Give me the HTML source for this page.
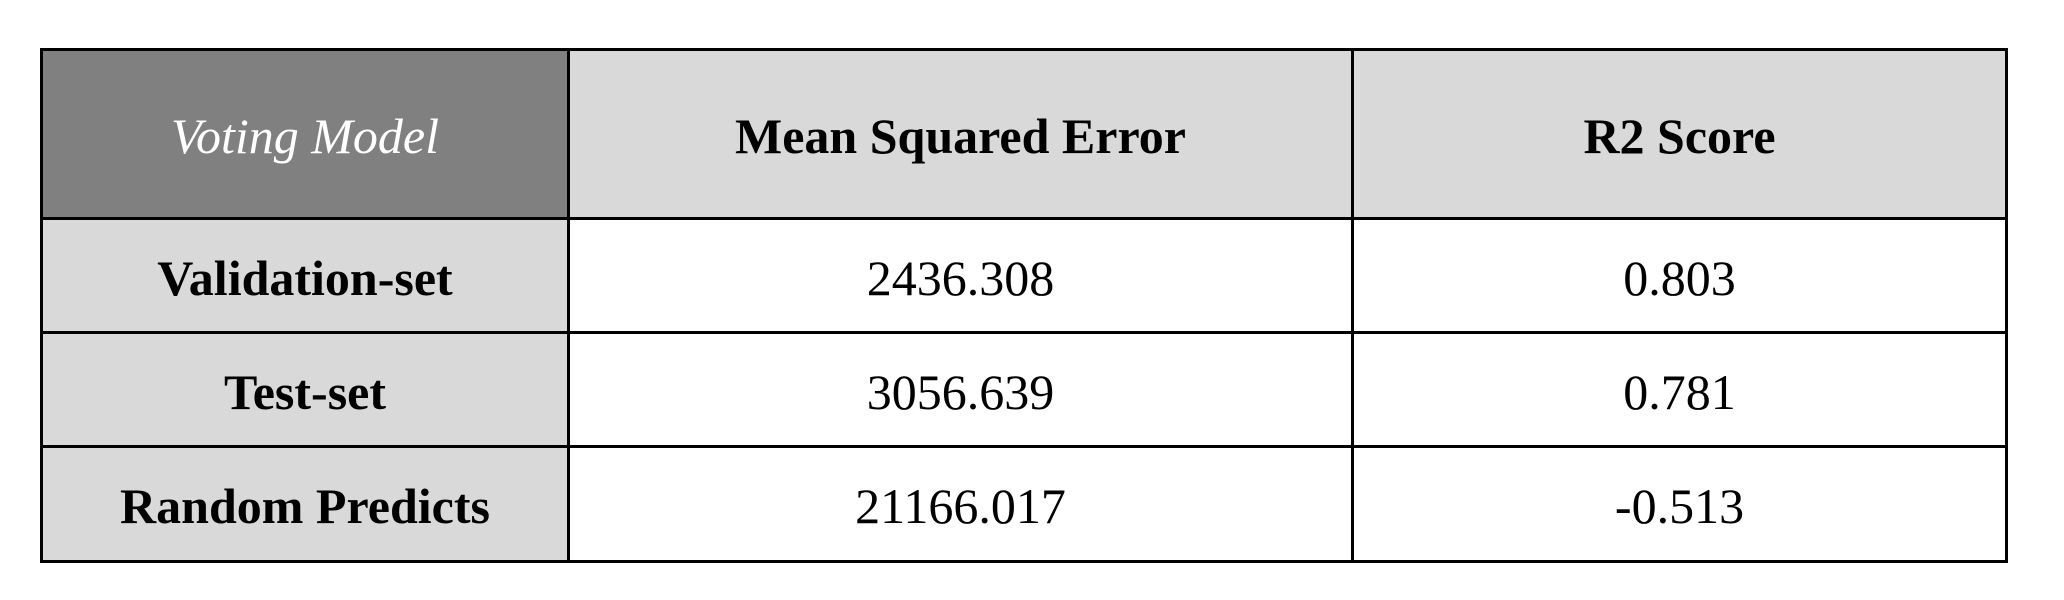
<!DOCTYPE html>
<html><head><meta charset="utf-8"><style>
html,body{margin:0;padding:0;background:#fff;width:2064px;height:600px;overflow:hidden}
table{position:absolute;left:40px;top:48px;border-collapse:collapse;font-family:"Liberation Serif",serif;table-layout:fixed}
td{border:3px solid #000;text-align:center;vertical-align:middle;padding:4px 0 0 0;font-size:50px;color:#000;line-height:1}
.h{background:#d9d9d9;font-weight:bold;font-size:50px}
.corner{background:#808080;color:#fff;font-style:italic;font-size:50px}
.lab{background:#d9d9d9;font-weight:bold;font-size:50px}
</style></head><body>
<table>
<colgroup><col style="width:527px"><col style="width:784px"><col style="width:654px"></colgroup>
<tr style="height:169px">
<td class="corner">Voting Model</td>
<td class="h">Mean Squared Error</td>
<td class="h">R2 Score</td></tr>
<tr style="height:114px">
<td class="lab">Validation-set</td>
<td>2436.308</td>
<td>0.803</td></tr>
<tr style="height:114px">
<td class="lab">Test-set</td>
<td>3056.639</td>
<td>0.781</td></tr>
<tr style="height:115px">
<td class="lab">Random Predicts</td>
<td>21166.017</td>
<td>-0.513</td></tr>
</table>
</body></html>
